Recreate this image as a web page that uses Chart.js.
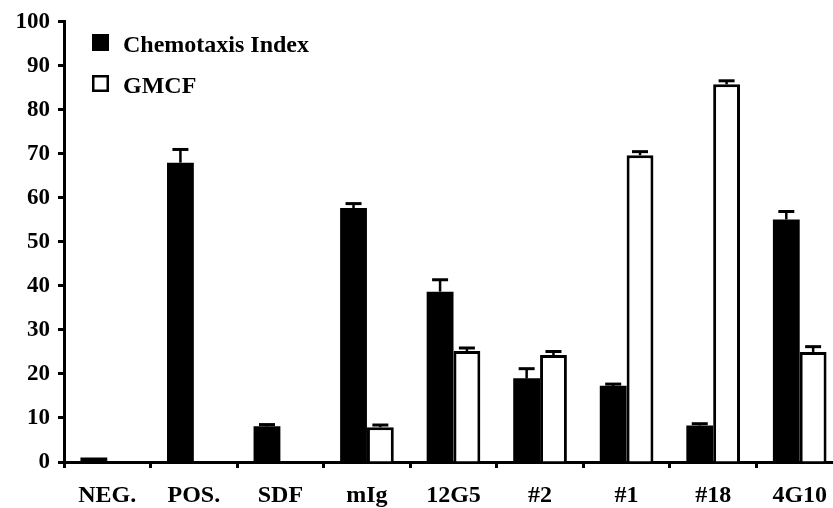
<!DOCTYPE html>
<html>
<head>
<meta charset="utf-8">
<script src="https://cdn.jsdelivr.net/npm/chart.js@4.4.1/dist/chart.umd.min.js"></script>
<style>
html,body{margin:0;padding:0;background:#fff;overflow:hidden;}
#wrap{width:843px;height:508px;}
</style>
</head>
<body>
<div id="wrap"><canvas id="chart"></canvas></div>
<script>
// data
const categories = ["NEG.","POS.","SDF","mIg","12G5","#2","#1","#18","4G10"];
const chemotaxis = [1, 68, 8.1, 57.7, 38.7, 19, 17.3, 8.3, 55.1];
const chemotaxisErr = [0, 3, 0.4, 1, 2.7, 2.2, 0.4, 0.4, 1.8];
const gmcf = [null, null, null, 7.9, 25.2, 24.3, 69.7, 85.8, 25];
const gmcfErr = [0, 0, 0, 0.5, 0.7, 0.8, 0.8, 0.8, 1.2];
const yTicks = [0,10,20,30,40,50,60,70,80,90,100];

const errors = [chemotaxisErr, gmcfErr];

/* upper error bars */
const errorBars = {
id:"errorBars",
afterDatasetsDraw(chart){
const ctx = chart.ctx;
const y = chart.scales.y;
ctx.save();
ctx.strokeStyle = "#000";
chart.data.datasets.forEach((ds,i)=>{
const meta = chart.getDatasetMeta(i);
meta.data.forEach((bar,j)=>{
const v = ds.data[j];
const e = errors[i][j];
if(v==null || !e) return;
const top = y.getPixelForValue(v+e);
ctx.lineWidth = 2.5;
ctx.beginPath();
ctx.moveTo(bar.x, bar.y);
ctx.lineTo(bar.x, top);
ctx.stroke();
ctx.lineWidth = 3;
ctx.beginPath();
ctx.moveTo(bar.x-8, top);
ctx.lineTo(bar.x+8, top);
ctx.stroke();
});
});
ctx.restore();
}
};

/* legend inside the plot, top left */
const insideLegend = {
id:"insideLegend",
afterDraw(chart){
const ctx = chart.ctx;
ctx.save();
ctx.font = "bold 24px 'Liberation Serif'";
ctx.textBaseline = "alphabetic";
chart.data.datasets.forEach((ds,i)=>{
const top = 34 + i*41;
ctx.fillStyle = ds.backgroundColor;
ctx.fillRect(92, top, 17, 17);
ctx.lineWidth = 2.5;
ctx.strokeStyle = "#000";
ctx.strokeRect(93.25, top+1.25, 14.5, 14.5);
ctx.fillStyle = "#000";
ctx.fillText(ds.label, 123, top+18);
});
ctx.restore();
}
};

new Chart(document.getElementById("chart"),{
type:"bar",
data:{
labels:categories,
datasets:[{
label:"Chemotaxis Index",
data:chemotaxis,
backgroundColor:"#000",
borderColor:"#000",
borderWidth:0
},{
label:"GMCF",
data:gmcf,
backgroundColor:"#fff",
borderColor:"#000",
borderWidth:3
}]
},
options:{
responsive:true,
maintainAspectRatio:false,
animation:false,
layout:{padding:{top:18,left:0,right:0,bottom:0}},
datasets:{bar:{categoryPercentage:0.62,barPercentage:1.0}},
plugins:{legend:{display:false},tooltip:{enabled:false}},
scales:{
x:{
grid:{offset:true,drawOnChartArea:false,drawTicks:true,tickLength:6,tickWidth:3,tickColor:"#000"},
border:{display:true,color:"#000",width:3},
ticks:{color:"#000",font:{family:"'Liberation Serif'",size:24,weight:"bold"},padding:13,maxRotation:0,autoSkip:false},
afterFit:(s)=>{s.height=46;}
},
y:{
min:0,max:100,
afterBuildTicks:(s)=>{s.ticks=yTicks.map(v=>({value:v}));},
grid:{drawOnChartArea:false,drawTicks:true,tickLength:6,tickWidth:3,tickColor:"#000"},
border:{display:true,color:"#000",width:3},
ticks:{color:"#000",font:{family:"'Liberation Serif'",size:23,weight:"bold"},padding:8},
afterFit:(s)=>{s.width=64;}
}
}
},
plugins:[errorBars,insideLegend]
});
</script>
</body>
</html>
